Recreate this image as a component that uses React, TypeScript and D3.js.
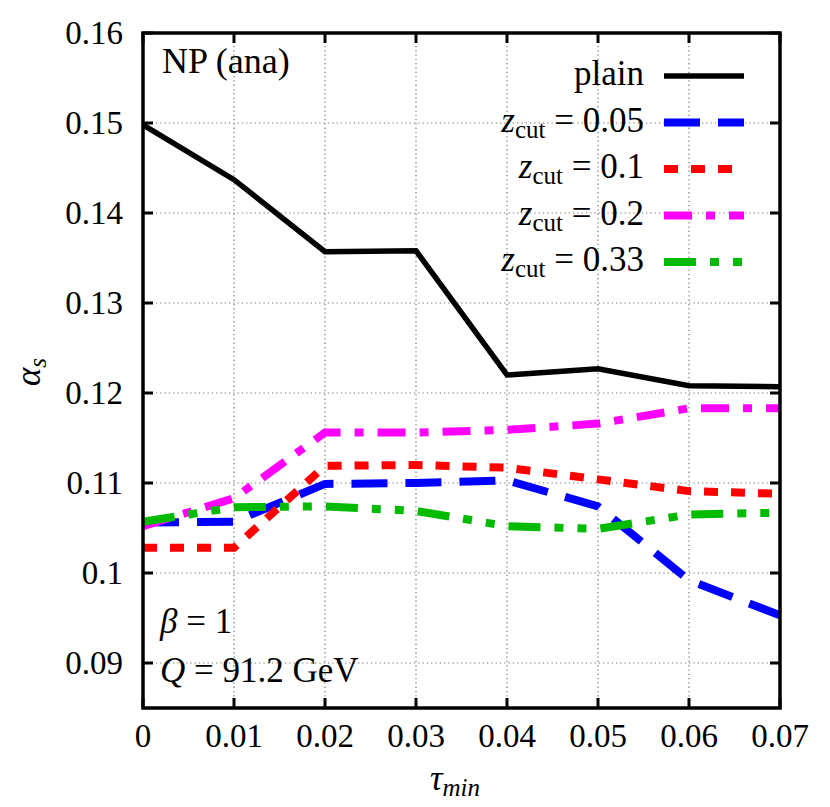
import React from "react";
import * as d3 from "d3";

// tau_min values on the x axis
const tau = [0, 0.01, 0.02, 0.03, 0.04, 0.05, 0.06, 0.07];

// alpha_s fits for each grooming setting
const plain = [0.1498, 0.1437, 0.1357, 0.1358, 0.122, 0.1227, 0.1208, 0.1207];
const zcut005 = [0.1056, 0.1057, 0.1099, 0.11, 0.1103, 0.1074, 0.0992, 0.0953];
const zcut01 = [0.1028, 0.1028, 0.1119, 0.112, 0.1117, 0.1104, 0.1091, 0.1088];
const zcut02 = [0.1052, 0.1083, 0.1156, 0.1156, 0.1159, 0.1166, 0.1183, 0.1183];
const zcut033 = [0.1057, 0.1073, 0.1074, 0.1069, 0.1052, 0.1049, 0.1065, 0.1067];

const xTickVals = [0, 0.01, 0.02, 0.03, 0.04, 0.05, 0.06, 0.07];
const xTickLabels = ["0", "0.01", "0.02", "0.03", "0.04", "0.05", "0.06", "0.07"];
const yTickVals = [0.09, 0.1, 0.11, 0.12, 0.13, 0.14, 0.15, 0.16];
const yTickLabels = ["0.09", "0.1", "0.11", "0.12", "0.13", "0.14", "0.15", "0.16"];

const series = [
  { name: "plain", zcut: null, values: plain, color: "#000000", dash: null, width: 5.5 },
  { name: "0.05", zcut: "0.05", values: zcut005, color: "#0000ff", dash: "36,18", width: 8 },
  { name: "0.1", zcut: "0.1", values: zcut01, color: "#ff0000", dash: "14,13", width: 8 },
  { name: "0.2", zcut: "0.2", values: zcut02, color: "#ff00ff", dash: "28,14,9,14", width: 8 },
  { name: "0.33", zcut: "0.33", values: zcut033, color: "#00bb00", dash: "32,14,9,14,9,14", width: 8 },
];

const W = 830;
const H = 807;
const left = 143;
const right = 780;
const top = 33;
const bottom = 708;
const font = "Liberation Serif, DejaVu Serif, serif";

export default function App() {
  const x = d3.scaleLinear().domain([0, 0.07]).range([left, right]);
  const y = d3.scaleLinear().domain([0.085, 0.16]).range([bottom, top]);

  const lineFor = (vals: number[]) =>
    d3
      .line<number>()
      .x((_, i) => x(tau[i]))
      .y((v) => y(v))(vals) || "";

  const tickLen = 10;

  return (
    <svg
      width={W}
      height={H}
      style={{ position: "absolute", left: 0, top: 0, background: "#fff", fontFamily: font }}
    >
      <rect width={W} height={H} fill="#fff" />
      {/* grid */}
      <g stroke="#777" strokeWidth={1.2} strokeDasharray="1.3,3">
        {xTickVals.slice(1, -1).map((v) => (
          <line key={"gx" + v} x1={x(v)} x2={x(v)} y1={top} y2={bottom} />
        ))}
        {yTickVals.slice(0, -1).map((v) => (
          <line key={"gy" + v} x1={left} x2={right} y1={y(v)} y2={y(v)} />
        ))}
      </g>

      {/* curves */}
      <g fill="none" strokeLinejoin="miter" strokeLinecap="butt">
        {series.map((s) => (
          <path
            key={s.name}
            d={lineFor(s.values)}
            stroke={s.color}
            strokeWidth={s.width}
            strokeDasharray={s.dash || undefined}
          />
        ))}
      </g>

      {/* ticks */}
      <g stroke="#000" strokeWidth={3}>
        {xTickVals.map((v) => (
          <g key={"tx" + v}>
            <line x1={x(v)} x2={x(v)} y1={bottom} y2={bottom - tickLen} />
            <line x1={x(v)} x2={x(v)} y1={top} y2={top + tickLen} />
          </g>
        ))}
        {yTickVals.map((v) => (
          <g key={"ty" + v}>
            <line x1={left} x2={left + tickLen} y1={y(v)} y2={y(v)} />
            <line x1={right} x2={right - tickLen} y1={y(v)} y2={y(v)} />
          </g>
        ))}
      </g>

      {/* frame */}
      <rect
        x={left}
        y={top}
        width={right - left}
        height={bottom - top}
        fill="none"
        stroke="#000"
        strokeWidth={3.5}
      />

      {/* tick labels */}
      <g fontSize={33} fill="#000">
        {xTickVals.map((v, i) => (
          <text key={"lx" + v} x={x(v)} y={747} textAnchor="middle">
            {xTickLabels[i]}
          </text>
        ))}
        {yTickVals.map((v, i) => (
          <text key={"ly" + v} x={123} y={y(v) + 11} textAnchor="end">
            {yTickLabels[i]}
          </text>
        ))}
      </g>

      {/* axis titles */}
      <text x={455} y={790} fontSize={35} textAnchor="middle">
        <tspan fontStyle="italic">τ</tspan>
        <tspan fontStyle="italic" fontSize={25} dy={6}>min</tspan>
      </text>
      <text transform="translate(40,372) rotate(-90)" fontSize={35} textAnchor="middle">
        <tspan fontStyle="italic">α</tspan>
        <tspan fontStyle="italic" fontSize={25} dy={6}>s</tspan>
      </text>

      {/* annotations */}
      <text x={162} y={73} fontSize={36}>NP (ana)</text>
      <text x={160} y={633} fontSize={35}>
        <tspan fontStyle="italic">β</tspan> = 1
      </text>
      <text x={160} y={682} fontSize={35}>
        <tspan fontStyle="italic">Q</tspan> = 91.2 GeV
      </text>

      {/* legend */}
      <g fontSize={35}>
        {series.map((s, i) => {
          const cy = 76 + i * 46.5;
          return (
            <g key={"leg" + s.name}>
              <text x={644} y={cy + 9} textAnchor="end">
                {s.zcut === null ? (
                  "plain"
                ) : (
                  <>
                    <tspan fontStyle="italic">z</tspan>
                    <tspan fontSize={25} dy={6}>cut</tspan>
                    <tspan dy={-6}>{" = " + s.zcut}</tspan>
                  </>
                )}
              </text>
              <line
                x1={664}
                x2={744}
                y1={cy}
                y2={cy}
                stroke={s.color}
                strokeWidth={s.width}
                strokeDasharray={s.dash || undefined}
              />
            </g>
          );
        })}
      </g>
    </svg>
  );
}
